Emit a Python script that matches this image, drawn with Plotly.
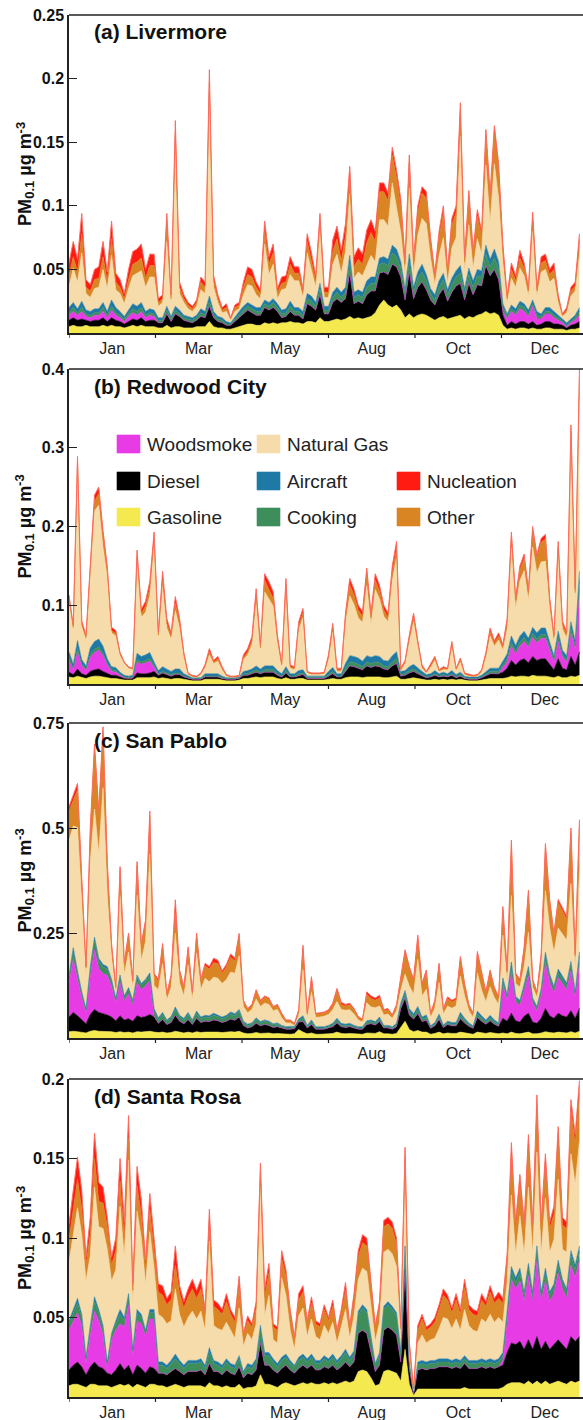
import plotly.graph_objects as go

# ---------------------------------------------------------------------------
# Daily-mean PM0.1 source contributions, sampled every third day of the year.
# All concentrations below are in ng m-3 (converted to ug m-3 when plotted).
# ---------------------------------------------------------------------------
DAYS = list(range(0, 361, 3))

MONTH_LABELS = ["Jan", "Mar", "May", "Aug", "Oct", "Dec"]
MONTH_LABEL_DAYS = [30.5, 91.5, 152.5, 213.5, 274.5, 335.5]
MONTH_TICK_DAYS = [0, 61, 122, 183, 244, 305]

SOURCES = ["Gasoline", "Diesel", "Woodsmoke", "Cooking", "Aircraft",
           "Natural Gas", "Other", "Nucleation"]

# ---- (a) Livermore ---------------------------------------------------------
LIV_GASOLINE = [
    5, 6, 5, 5, 6, 5, 5, 5, 6, 5, 6, 5, 5, 4, 5, 6, 5, 6, 5, 5, 5,
    4, 4, 6, 4, 5, 5, 4, 4, 4, 5, 5, 5, 9, 5, 4, 4, 3, 3, 4, 5, 6, 7, 7, 6, 6, 8, 7, 8, 7,
    8, 8, 9, 8, 8, 7, 9, 9, 8, 12, 9, 9, 10, 11, 10, 11, 13, 11, 12, 11, 12, 13, 16, 22, 26, 22,
    20, 22, 18, 12, 15, 12, 14, 15, 14, 12, 10, 12, 13, 11, 12, 13, 14, 11, 13, 12, 14, 15, 17, 15, 16, 14,
    6, 3, 4, 3, 4, 4, 3, 4, 3, 3, 4, 4, 3, 3, 3, 2, 3, 3, 4]
LIV_DIESEL = [
    5, 6, 5, 6, 4, 4, 5, 5, 6, 4, 6, 5, 4, 3, 4, 5, 5, 6, 4, 5, 5,
    4, 4, 9, 5, 10, 8, 6, 5, 4, 5, 8, 7, 12, 7, 5, 4, 3, 3, 5, 7, 9, 11, 9, 8, 8, 12, 11, 12, 10,
    4, 5, 8, 6, 6, 4, 14, 12, 10, 18, 6, 6, 14, 16, 14, 16, 34, 12, 13, 12, 18, 20, 17, 25, 22, 24,
    34, 30, 26, 14, 33, 15, 22, 25, 20, 14, 12, 18, 22, 14, 20, 24, 25, 15, 26, 18, 24, 22, 36, 30, 34, 28,
    8, 3, 5, 4, 5, 5, 4, 5, 3, 4, 5, 5, 4, 4, 3, 2, 3, 4, 5]
LIV_WOODSMOKE = [
    4, 5, 4, 6, 3, 3, 4, 4, 5, 3, 6, 4, 3, 2, 4, 5, 4, 5, 3, 4, 3,
    0, 0, 0, 0, 0, 0, 0, 0, 0, 0, 0, 0, 0, 0, 0, 0, 0, 0, 0, 0, 0, 0, 0, 0, 0, 0, 0, 0, 0,
    0, 0, 0, 0, 0, 0, 0, 0, 0, 0, 0, 0, 0, 0, 0, 0, 0, 0, 0, 0, 0, 0, 0, 0, 0, 0,
    0, 0, 0, 0, 0, 0, 0, 0, 0, 0, 0, 0, 0, 0, 0, 0, 0, 0, 0, 0, 0, 0, 0, 0, 0, 0,
    3, 5, 8, 7, 10, 8, 6, 12, 5, 4, 6, 6, 5, 3, 2, 1, 2, 3, 5]
LIV_COOKING = [
    2, 3, 2, 3, 2, 2, 2, 2, 3, 2, 3, 2, 2, 2, 2, 3, 3, 3, 2, 2, 2,
    2, 2, 3, 2, 3, 2, 2, 2, 2, 2, 3, 2, 4, 2, 2, 2, 1, 1, 2, 2, 3, 3, 3, 3, 3, 3, 3, 4, 3,
    3, 3, 4, 3, 3, 3, 4, 4, 3, 5, 3, 3, 4, 5, 4, 5, 8, 5, 5, 5, 6, 6, 6, 7, 7, 7,
    9, 8, 7, 5, 8, 5, 7, 8, 7, 5, 4, 6, 7, 5, 6, 7, 8, 5, 7, 6, 7, 7, 9, 7, 9, 8,
    3, 2, 2, 2, 3, 3, 2, 2, 3, 2, 2, 2, 2, 2, 1, 1, 1, 2, 3]
LIV_AIRCRAFT = [
    4, 4, 3, 5, 3, 3, 3, 3, 4, 3, 5, 4, 3, 2, 3, 4, 4, 4, 3, 3, 3,
    2, 2, 3, 2, 3, 3, 2, 2, 2, 2, 3, 3, 4, 3, 2, 2, 2, 1, 2, 3, 3, 3, 3, 3, 3, 3, 3, 3, 3,
    3, 3, 4, 3, 3, 3, 4, 4, 3, 4, 3, 3, 4, 4, 4, 4, 6, 4, 4, 4, 5, 5, 5, 5, 5, 5,
    6, 6, 5, 4, 6, 4, 5, 6, 5, 4, 4, 5, 5, 4, 5, 5, 6, 4, 5, 5, 5, 5, 7, 6, 7, 6,
    3, 2, 3, 3, 3, 3, 3, 3, 3, 2, 3, 3, 3, 2, 2, 2, 2, 2, 3]
LIV_NATURAL_GAS = [
    17, 27, 21, 38, 13, 11, 16, 17, 26, 18, 35, 14, 14, 10, 17, 22, 26, 25, 19, 25, 26,
    9, 12, 51, 11, 128, 13, 10, 6, 5, 7, 15, 14, 160, 19, 11, 4, 8, 2, 4, 2, 9, 14, 15, 10, 7, 44, 22, 27, 4,
    16, 16, 21, 21, 21, 11, 32, 20, 12, 42, 7, 7, 22, 26, 15, 28, 48, 11, 14, 13, 12, 17, 12, 30, 29, 26,
    49, 34, 23, 11, 52, 10, 29, 36, 40, 24, 8, 20, 28, 5, 24, 26, 102, 13, 34, 10, 24, 13, 63, 29, 67, 50,
    33, 9, 21, 17, 26, 22, 11, 54, 12, 33, 30, 20, 26, 10, 2, 8, 18, 19, 42]
LIV_OTHER = [
    8, 9, 8, 15, 5, 5, 7, 7, 10, 6, 13, 6, 5, 4, 7, 9, 9, 10, 7, 9, 9,
    3, 3, 14, 3, 8, 5, 3, 3, 2, 3, 6, 5, 8, 5, 3, 2, 3, 1, 3, 3, 6, 8, 7, 6, 4, 10, 8, 9, 5,
    5, 5, 8, 6, 6, 4, 9, 8, 5, 8, 4, 4, 10, 12, 10, 12, 14, 9, 10, 9, 18, 18, 16, 22, 22, 20,
    22, 22, 20, 8, 20, 8, 18, 20, 20, 12, 6, 14, 20, 8, 18, 20, 20, 8, 22, 10, 18, 14, 22, 18, 24, 22,
    8, 3, 7, 5, 8, 6, 4, 10, 4, 7, 7, 6, 7, 3, 1, 2, 4, 4, 10]
LIV_NUCLEATION = [
    10, 12, 10, 16, 6, 5, 8, 9, 12, 7, 14, 7, 6, 4, 8, 10, 10, 11, 7, 9, 9,
    3, 3, 8, 3, 10, 4, 3, 2, 2, 2, 4, 4, 10, 4, 3, 2, 3, 1, 2, 2, 4, 6, 6, 4, 3, 8, 6, 7, 3,
    5, 5, 6, 5, 5, 3, 6, 6, 4, 5, 4, 4, 9, 10, 8, 10, 8, 8, 9, 8, 10, 10, 8, 7, 7, 6,
    6, 6, 6, 4, 6, 4, 5, 5, 5, 4, 3, 5, 5, 3, 5, 5, 6, 4, 5, 4, 5, 4, 6, 5, 6, 5,
    6, 2, 5, 4, 6, 4, 3, 5, 3, 5, 5, 4, 5, 3, 1, 2, 3, 3, 6]

# ---- (b) Redwood City ------------------------------------------------------
RWC_GASOLINE = [
    9, 8, 10, 8, 7, 9, 10, 10, 9, 8, 7, 7, 6, 5, 5, 5, 8, 8, 8, 8, 9,
    7, 8, 7, 6, 7, 7, 6, 5, 4, 4, 4, 6, 6, 6, 6, 5, 4, 4, 4, 5, 7, 7, 8, 9, 8, 9, 9, 9, 7,
    6, 8, 6, 6, 7, 7, 5, 5, 5, 5, 5, 6, 7, 6, 6, 8, 9, 9, 9, 8, 9, 9, 9, 9, 8, 8,
    9, 10, 6, 6, 7, 8, 7, 6, 5, 5, 6, 5, 6, 5, 6, 5, 6, 5, 4, 4, 4, 5, 6, 7, 7, 7,
    7, 8, 10, 9, 10, 10, 9, 11, 10, 10, 10, 9, 8, 10, 8, 8, 10, 9, 11]
RWC_DIESEL = [
    6, 4, 9, 5, 4, 7, 8, 9, 7, 6, 4, 4, 3, 2, 2, 2, 6, 5, 5, 6, 7,
    4, 6, 5, 4, 5, 5, 3, 2, 2, 2, 2, 3, 3, 3, 3, 2, 2, 2, 2, 2, 4, 4, 5, 6, 5, 6, 6, 6, 4,
    3, 6, 3, 3, 4, 5, 2, 2, 2, 2, 2, 4, 6, 3, 3, 8, 14, 13, 11, 10, 14, 12, 14, 13, 11, 10,
    14, 16, 4, 5, 7, 8, 6, 4, 3, 4, 5, 4, 4, 4, 5, 3, 4, 2, 2, 2, 2, 3, 5, 6, 6, 6,
    8, 12, 20, 15, 20, 22, 18, 24, 20, 22, 22, 16, 10, 22, 12, 10, 25, 15, 30]
RWC_WOODSMOKE = [
    15, 6, 22, 10, 6, 18, 22, 24, 20, 10, 5, 4, 2, 1, 0, 1, 14, 12, 14, 15, 5,
    0, 0, 0, 0, 0, 0, 0, 0, 0, 0, 0, 0, 0, 0, 0, 0, 0, 0, 0, 0, 0, 0, 0, 0, 0, 0, 0, 0, 0,
    0, 0, 0, 0, 0, 0, 0, 0, 0, 0, 0, 0, 0, 0, 0, 0, 0, 0, 0, 0, 0, 0, 0, 0, 0, 0,
    0, 0, 0, 0, 0, 0, 0, 0, 0, 0, 0, 0, 0, 0, 0, 0, 0, 0, 0, 0, 0, 0, 0, 0, 0, 0,
    6, 8, 18, 14, 18, 22, 20, 24, 22, 26, 26, 18, 10, 22, 14, 10, 30, 20, 80]
RWC_COOKING = [
    3, 2, 4, 2, 2, 3, 4, 4, 3, 2, 2, 2, 1, 1, 1, 1, 3, 3, 3, 3, 3,
    2, 2, 2, 2, 2, 2, 1, 1, 1, 1, 1, 1, 1, 1, 1, 1, 1, 1, 1, 1, 2, 2, 2, 3, 2, 3, 3, 3, 2,
    1, 3, 1, 1, 2, 2, 1, 1, 1, 1, 1, 2, 3, 1, 1, 4, 5, 5, 5, 4, 5, 5, 5, 5, 4, 4,
    5, 6, 2, 2, 3, 3, 2, 2, 1, 1, 2, 1, 2, 1, 2, 1, 2, 1, 1, 1, 1, 1, 2, 3, 3, 3,
    3, 4, 5, 4, 5, 5, 4, 5, 5, 5, 5, 4, 3, 5, 3, 3, 6, 4, 10]
RWC_AIRCRAFT = [
    8, 5, 10, 6, 4, 9, 10, 10, 9, 6, 4, 4, 3, 2, 2, 2, 8, 7, 7, 8, 4,
    4, 6, 5, 4, 5, 5, 3, 2, 1, 1, 1, 3, 3, 3, 3, 2, 1, 1, 1, 1, 3, 4, 4, 5, 4, 5, 5, 5, 4,
    3, 5, 3, 3, 4, 4, 2, 2, 2, 2, 2, 4, 5, 3, 3, 6, 8, 8, 8, 7, 8, 8, 8, 8, 7, 7,
    8, 9, 4, 4, 5, 6, 5, 4, 3, 3, 4, 3, 3, 3, 4, 3, 3, 2, 2, 2, 2, 2, 3, 4, 4, 4,
    5, 6, 8, 7, 8, 8, 7, 8, 8, 8, 8, 7, 5, 8, 6, 5, 8, 7, 12]
RWC_NATURAL_GAS = [
    63, 44, 220, 42, 33, 92, 166, 170, 125, 104, 43, 40, 21, 15, 10, 7, 117, 50, 54, 72, 152,
    41, 103, 52, 41, 74, 52, 21, 2, 1, 1, 4, 8, 24, 13, 16, 8, 2, 1, 1, 1, 15, 20, 31, 82, 23, 94, 85, 76, 35,
    9, 98, 7, 5, 52, 66, 4, 2, 2, 2, 3, 15, 45, 3, 3, 51, 76, 66, 51, 49, 89, 42, 84, 73, 56, 50,
    96, 119, 1, 9, 32, 54, 29, 4, 2, 8, 13, 3, 3, 5, 30, 5, 13, 2, 1, 1, 1, 4, 18, 41, 28, 36,
    14, 32, 112, 47, 70, 77, 48, 102, 76, 84, 85, 42, 18, 94, 27, 22, 222, 51, 227]
RWC_OTHER = [
    4, 3, 6, 3, 3, 6, 12, 15, 14, 8, 3, 3, 2, 1, 1, 1, 6, 5, 8, 10, 5,
    4, 8, 6, 4, 10, 6, 3, 1, 1, 0, 1, 2, 4, 2, 3, 2, 1, 0, 0, 0, 3, 4, 5, 8, 4, 15, 12, 10, 5,
    2, 6, 2, 2, 5, 6, 1, 1, 1, 1, 1, 3, 6, 2, 2, 8, 14, 12, 10, 8, 14, 8, 12, 10, 8, 6,
    10, 12, 1, 2, 4, 6, 3, 2, 1, 2, 3, 1, 2, 1, 4, 2, 3, 1, 1, 0, 1, 2, 3, 6, 4, 5,
    4, 8, 14, 10, 14, 16, 10, 20, 18, 25, 28, 10, 5, 14, 6, 5, 20, 10, 20]
RWC_NUCLEATION = [
    5, 3, 8, 4, 3, 6, 8, 8, 8, 6, 4, 4, 2, 1, 1, 1, 8, 5, 6, 8, 8,
    4, 10, 6, 4, 8, 6, 3, 1, 1, 1, 1, 2, 4, 2, 3, 2, 1, 1, 1, 1, 3, 4, 5, 8, 4, 8, 10, 8, 5,
    2, 8, 2, 2, 5, 6, 1, 1, 1, 1, 1, 3, 5, 2, 2, 5, 8, 7, 6, 6, 8, 6, 8, 7, 6, 5,
    8, 9, 2, 2, 4, 5, 3, 2, 1, 2, 2, 1, 2, 1, 3, 1, 2, 1, 1, 1, 1, 1, 3, 4, 3, 4,
    3, 5, 6, 4, 5, 5, 4, 6, 5, 5, 6, 4, 3, 6, 4, 3, 8, 5, 10]

# ---- (c) San Pablo ---------------------------------------------------------
SPB_GASOLINE = [
    15, 16, 15, 14, 12, 16, 18, 16, 16, 15, 15, 13, 15, 13, 14, 12, 15, 14, 15, 16, 14,
    13, 14, 12, 13, 16, 14, 12, 14, 12, 15, 13, 14, 14, 15, 14, 13, 14, 15, 14, 16, 12, 10, 11, 13, 11, 12, 12, 10, 11,
    10, 9, 9, 10, 20, 14, 10, 12, 9, 9, 9, 10, 11, 14, 11, 10, 11, 10, 9, 9, 12, 12, 11, 15, 10, 10,
    9, 11, 25, 40, 20, 15, 18, 14, 14, 9, 11, 14, 10, 12, 11, 11, 14, 12, 10, 9, 14, 12, 11, 13, 11, 10,
    12, 10, 14, 11, 10, 12, 14, 10, 10, 12, 15, 13, 12, 14, 13, 12, 15, 12, 16]
SPB_DIESEL = [
    35, 45, 38, 30, 22, 40, 50, 45, 42, 40, 35, 28, 38, 30, 32, 28, 38, 35, 36, 40, 36,
    22, 30, 20, 24, 38, 26, 22, 30, 20, 32, 24, 26, 25, 28, 27, 24, 26, 30, 28, 34, 18, 14, 16, 22, 18, 20, 18, 15, 16,
    14, 12, 12, 12, 18, 25, 14, 20, 12, 12, 12, 14, 16, 22, 16, 15, 16, 14, 12, 12, 20, 22, 20, 24, 14, 14,
    12, 16, 45, 55, 35, 30, 40, 25, 28, 14, 18, 30, 15, 20, 18, 18, 32, 24, 18, 14, 35, 28, 22, 28, 22, 18,
    35, 30, 45, 30, 28, 40, 45, 28, 25, 35, 55, 40, 35, 45, 40, 38, 50, 35, 55]
SPB_WOODSMOKE = [
    80, 127, 86, 51, 26, 93, 142, 104, 95, 94, 73, 42, 80, 45, 59, 38, 80, 66, 73, 81, 2,
    0, 0, 0, 0, 0, 0, 0, 0, 0, 0, 0, 0, 0, 0, 0, 0, 0, 0, 0, 0, 0, 0, 0, 0, 0, 0, 0, 0, 0,
    0, 0, 0, 0, 0, 0, 0, 0, 0, 0, 0, 0, 0, 0, 0, 0, 0, 0, 0, 0, 0, 0, 0, 0, 0, 0,
    0, 0, 0, 0, 0, 0, 0, 0, 0, 0, 0, 0, 0, 0, 0, 0, 0, 0, 0, 0, 0, 0, 0, 0, 0, 0,
    80, 50, 100, 45, 40, 60, 90, 45, 30, 55, 110, 80, 60, 85, 75, 65, 95, 50, 110]
SPB_COOKING = [
    14, 20, 15, 10, 6, 15, 22, 18, 16, 15, 12, 8, 12, 8, 10, 8, 12, 10, 11, 12, 12,
    9, 12, 8, 10, 14, 10, 9, 12, 8, 12, 9, 10, 10, 11, 10, 9, 10, 12, 11, 13, 7, 6, 6, 9, 7, 8, 7, 6, 6,
    3, 3, 3, 3, 4, 8, 3, 6, 3, 3, 3, 3, 4, 6, 4, 4, 4, 3, 3, 3, 5, 5, 4, 6, 3, 3,
    3, 4, 8, 10, 8, 7, 9, 6, 7, 3, 4, 7, 3, 4, 4, 4, 8, 6, 4, 3, 8, 7, 5, 7, 5, 4,
    10, 8, 14, 8, 7, 10, 13, 7, 6, 9, 15, 12, 10, 12, 11, 10, 14, 8, 15]
SPB_AIRCRAFT = [
    6, 7, 6, 5, 4, 6, 8, 7, 6, 6, 5, 4, 5, 4, 5, 4, 5, 5, 5, 6, 6,
    4, 5, 3, 4, 6, 4, 4, 5, 3, 5, 4, 4, 4, 5, 4, 4, 4, 5, 5, 5, 3, 3, 3, 4, 3, 3, 3, 3, 3,
    3, 3, 3, 3, 3, 6, 3, 5, 3, 3, 3, 3, 4, 5, 4, 4, 4, 3, 3, 3, 4, 4, 4, 5, 3, 3,
    3, 4, 6, 8, 7, 6, 8, 5, 6, 3, 4, 6, 3, 4, 4, 4, 7, 5, 4, 3, 7, 6, 5, 6, 5, 4,
    6, 5, 8, 5, 5, 6, 8, 5, 4, 6, 9, 7, 6, 8, 7, 6, 8, 5, 9]
SPB_NATURAL_GAS = [
    321, 290, 341, 202, 77, 250, 305, 250, 421, 170, 55, 14, 190, 51, 85, 30, 190, 55, 90, 283, 55,
    67, 116, 48, 69, 175, 77, 53, 113, 49, 138, 66, 88, 81, 86, 87, 80, 85, 95, 96, 128, 35, 27, 32, 45, 36, 40, 40, 31, 32,
    18, 9, 9, 2, 9, 110, 19, 67, 22, 23, 25, 26, 32, 40, 33, 33, 32, 27, 16, 11, 43, 31, 33, 26, 25, 27,
    20, 30, 30, 39, 54, 47, 112, 50, 61, 20, 34, 75, 26, 36, 34, 39, 87, 53, 29, 20, 91, 61, 43, 68, 53, 44,
    102, 33, 158, 31, 31, 43, 82, 26, 22, 47, 147, 110, 81, 98, 101, 102, 186, 55, 193]
SPB_OTHER = [
    70, 60, 90, 60, 20, 70, 140, 90, 130, 70, 25, 10, 60, 25, 40, 15, 70, 35, 45, 90, 25,
    20, 40, 12, 25, 50, 25, 18, 35, 15, 40, 20, 30, 30, 35, 35, 25, 30, 35, 30, 45, 12, 8, 10, 18, 12, 14, 12, 8, 10,
    8, 5, 5, 3, 10, 50, 8, 30, 8, 8, 8, 8, 12, 25, 12, 10, 12, 10, 6, 5, 20, 20, 18, 20, 10, 10,
    6, 12, 30, 50, 40, 30, 50, 25, 40, 8, 15, 40, 10, 18, 15, 15, 40, 25, 12, 8, 45, 35, 20, 35, 20, 15,
    60, 20, 120, 20, 15, 40, 90, 15, 10, 30, 100, 60, 40, 60, 55, 50, 120, 30, 110]
SPB_NUCLEATION = [
    10, 15, 15, 8, 3, 10, 15, 10, 15, 10, 5, 3, 8, 4, 5, 3, 10, 5, 6, 12, 4,
    5, 8, 3, 5, 30, 6, 4, 8, 3, 8, 4, 6, 6, 10, 8, 5, 6, 8, 6, 8, 3, 2, 2, 4, 3, 3, 3, 2, 2,
    3, 2, 2, 2, 3, 8, 3, 6, 2, 2, 2, 3, 4, 6, 5, 4, 4, 3, 2, 2, 6, 6, 5, 6, 3, 3,
    2, 3, 6, 8, 6, 5, 8, 5, 6, 2, 4, 6, 3, 4, 4, 4, 6, 5, 3, 2, 6, 5, 4, 5, 4, 3,
    8, 4, 12, 4, 4, 6, 10, 4, 3, 6, 12, 8, 6, 8, 8, 7, 12, 5, 12]

# ---- (d) Santa Rosa --------------------------------------------------------
SRO_GASOLINE = [
    7, 8, 8, 7, 6, 8, 8, 7, 7, 7, 6, 7, 8, 7, 8, 6, 8, 7, 6, 8, 8,
    7, 7, 6, 7, 8, 7, 6, 7, 7, 7, 7, 6, 9, 7, 7, 6, 7, 6, 6, 8, 5, 6, 6, 7, 14, 8, 8, 7, 6,
    8, 9, 8, 7, 8, 9, 8, 9, 8, 8, 9, 8, 9, 8, 9, 10, 9, 10, 16, 17, 16, 12, 7, 8, 16, 17,
    16, 15, 10, 30, 8, 1, 5, 5, 5, 5, 5, 5, 5, 5, 5, 5, 5, 6, 5, 5, 5, 5, 5, 5, 5, 5,
    6, 8, 9, 9, 9, 8, 10, 8, 10, 8, 10, 8, 9, 10, 9, 8, 10, 9, 10]
SRO_DIESEL = [
    10, 12, 14, 12, 8, 11, 14, 12, 11, 8, 8, 10, 13, 10, 12, 8, 12, 11, 9, 11, 10,
    8, 8, 8, 9, 10, 9, 8, 9, 9, 9, 10, 8, 12, 9, 9, 8, 10, 9, 8, 11, 7, 9, 8, 10, 20, 12, 12, 10, 9,
    10, 11, 9, 8, 10, 11, 10, 11, 9, 9, 10, 10, 11, 9, 10, 12, 10, 12, 24, 25, 24, 16, 9, 12, 26, 27,
    26, 24, 12, 50, 10, 1, 12, 13, 12, 13, 13, 14, 14, 14, 13, 14, 13, 15, 13, 13, 13, 14, 13, 14, 13, 14,
    14, 20, 25, 24, 26, 22, 26, 22, 28, 22, 25, 22, 24, 26, 24, 22, 28, 26, 28]
SRO_WOODSMOKE = [
    25, 28, 31, 26, 7, 20, 32, 29, 21, 3, 22, 25, 25, 27, 38, 12, 28, 28, 23, 30, 31,
    0, 0, 0, 0, 0, 0, 0, 0, 0, 0, 0, 0, 0, 0, 0, 0, 0, 0, 0, 0, 0, 0, 0, 0, 0, 0, 0, 0, 0,
    0, 0, 0, 0, 0, 0, 0, 0, 0, 0, 0, 0, 0, 0, 0, 0, 0, 0, 0, 0, 0, 0, 0, 0, 0, 0,
    0, 0, 0, 0, 0, 0, 0, 0, 0, 0, 0, 0, 0, 0, 0, 0, 0, 0, 0, 0, 0, 0, 0, 0, 0, 0,
    3, 20, 40, 35, 38, 30, 40, 30, 48, 30, 38, 30, 32, 42, 35, 32, 45, 40, 48]
SRO_COOKING = [
    4, 5, 6, 5, 3, 4, 6, 5, 4, 3, 3, 4, 6, 4, 5, 3, 5, 4, 3, 4, 4,
    5, 5, 4, 5, 6, 5, 4, 5, 5, 5, 5, 4, 7, 5, 4, 4, 5, 4, 4, 5, 3, 4, 4, 5, 8, 6, 6, 5, 4,
    5, 5, 4, 4, 5, 5, 4, 5, 4, 4, 5, 4, 5, 4, 5, 6, 4, 5, 12, 14, 13, 8, 4, 6, 13, 14,
    13, 12, 5, 12, 4, 1, 3, 3, 3, 3, 3, 3, 3, 3, 3, 3, 3, 3, 3, 3, 3, 3, 3, 3, 3, 3,
    3, 4, 5, 4, 5, 4, 5, 4, 6, 4, 5, 4, 4, 5, 4, 4, 6, 5, 6]
SRO_AIRCRAFT = [
    2, 2, 3, 2, 1, 2, 3, 2, 2, 1, 1, 2, 3, 2, 2, 1, 2, 2, 1, 2, 2,
    2, 2, 2, 2, 3, 2, 2, 2, 2, 2, 2, 2, 3, 2, 2, 2, 2, 2, 2, 2, 1, 2, 2, 2, 3, 2, 2, 2, 2,
    2, 2, 2, 1, 2, 2, 2, 2, 2, 2, 2, 2, 2, 2, 2, 2, 2, 2, 2, 2, 2, 2, 1, 2, 2, 2,
    2, 2, 2, 3, 1, 0, 2, 2, 2, 2, 2, 2, 2, 2, 2, 2, 2, 2, 2, 2, 2, 2, 2, 2, 2, 2,
    2, 2, 3, 3, 3, 2, 3, 2, 3, 2, 3, 2, 2, 3, 2, 2, 3, 3, 3]
SRO_NATURAL_GAS = [
    37, 47, 57, 50, 48, 44, 69, 52, 61, 71, 33, 32, 65, 38, 84, 29, 62, 48, 29, 49, 26,
    30, 28, 26, 25, 41, 29, 24, 27, 31, 26, 30, 22, 67, 22, 21, 22, 23, 21, 17, 30, 16, 19, 16, 22, 87, 23, 36, 12, 13,
    50, 37, 19, 10, 26, 29, 14, 22, 15, 13, 19, 16, 20, 11, 18, 25, 12, 22, 20, 23, 24, 17, 14, 19, 34, 33,
    33, 29, 8, 42, 4, 1, 12, 16, 12, 13, 14, 19, 26, 25, 20, 25, 19, 29, 22, 19, 18, 25, 24, 28, 24, 26,
    19, 18, 45, 15, 33, 24, 48, 24, 59, 24, 44, 25, 28, 51, 19, 23, 61, 51, 66]
SRO_OTHER = [
    14, 16, 18, 16, 10, 14, 18, 16, 16, 14, 10, 12, 16, 12, 14, 8, 16, 14, 10, 14, 12,
    14, 14, 12, 13, 15, 13, 12, 13, 14, 13, 14, 10, 12, 12, 12, 10, 13, 10, 10, 14, 6, 8, 8, 10, 10, 12, 14, 8, 8,
    12, 12, 10, 6, 10, 10, 8, 10, 8, 8, 10, 8, 10, 6, 8, 12, 6, 10, 14, 16, 16, 12, 8, 10, 16, 16,
    16, 14, 6, 14, 6, 1, 8, 10, 8, 8, 10, 12, 14, 12, 10, 12, 10, 14, 10, 10, 10, 12, 10, 14, 12, 12,
    12, 14, 25, 15, 20, 15, 25, 15, 28, 15, 22, 15, 16, 25, 15, 15, 28, 25, 30]
SRO_NUCLEATION = [
    10, 12, 14, 12, 5, 10, 16, 12, 10, 6, 5, 8, 14, 10, 14, 4, 12, 10, 5, 10, 8,
    5, 6, 4, 5, 12, 5, 4, 5, 6, 5, 6, 3, 8, 4, 4, 3, 5, 3, 3, 6, 2, 3, 2, 4, 5, 5, 6, 2, 2,
    5, 4, 3, 2, 4, 4, 2, 4, 2, 2, 3, 2, 4, 2, 3, 5, 2, 4, 4, 5, 5, 3, 2, 3, 4, 4,
    4, 4, 2, 6, 2, 0, 3, 3, 2, 2, 3, 3, 4, 3, 3, 4, 3, 5, 3, 3, 3, 4, 3, 4, 3, 4,
    3, 4, 8, 5, 6, 5, 8, 5, 8, 5, 6, 4, 5, 8, 5, 4, 6, 6, 8]

# Y-axis ticks of each panel (ug m-3)
LIV_YTICKS = [0.05, 0.1, 0.15, 0.2, 0.25]
RWC_YTICKS = [0.1, 0.2, 0.3, 0.4]
SPB_YTICKS = [0.25, 0.5, 0.75]
SRO_YTICKS = [0.05, 0.1, 0.15, 0.2]

# ---------------------------------------------------------------------------
# Styling
# ---------------------------------------------------------------------------
COLORS = {
    "Gasoline": "#F4E94E",
    "Diesel": "#000000",
    "Woodsmoke": "#E73BE6",
    "Cooking": "#3E8E5B",
    "Aircraft": "#1E7AA5",
    "Natural Gas": "#F7DCAB",
    "Other": "#DA8524",
    "Nucleation": "#FF1A12",
}
FONT = "Liberation Sans, Arial, Helvetica, sans-serif"
FIG_W, FIG_H = 583, 1420
PLOT_LEFT = 69
X_RANGE = [0, 362.5]

panels = [
    dict(title="(a) Livermore", top=15, bottom=333, ymax=0.25, yticks=LIV_YTICKS,
         series=[LIV_GASOLINE, LIV_DIESEL, LIV_WOODSMOKE, LIV_COOKING, LIV_AIRCRAFT,
                 LIV_NATURAL_GAS, LIV_OTHER, LIV_NUCLEATION]),
    dict(title="(b) Redwood City", top=369, bottom=684, ymax=0.4, yticks=RWC_YTICKS,
         series=[RWC_GASOLINE, RWC_DIESEL, RWC_WOODSMOKE, RWC_COOKING, RWC_AIRCRAFT,
                 RWC_NATURAL_GAS, RWC_OTHER, RWC_NUCLEATION]),
    dict(title="(c) San Pablo", top=723, bottom=1038, ymax=0.75, yticks=SPB_YTICKS,
         series=[SPB_GASOLINE, SPB_DIESEL, SPB_WOODSMOKE, SPB_COOKING, SPB_AIRCRAFT,
                 SPB_NATURAL_GAS, SPB_OTHER, SPB_NUCLEATION]),
    dict(title="(d) Santa Rosa", top=1079, bottom=1397, ymax=0.2, yticks=SRO_YTICKS,
         series=[SRO_GASOLINE, SRO_DIESEL, SRO_WOODSMOKE, SRO_COOKING, SRO_AIRCRAFT,
                 SRO_NATURAL_GAS, SRO_OTHER, SRO_NUCLEATION]),
]

# Rotated y-axis title "PM0.1 ug m-3", laid out piece by piece (reading upward):
# (text, font size, horizontal pixel centre, offset of the piece centre from the
# panel centre in pixels; negative = higher up)
YTITLE_PIECES = [
    ("PM", 18, 25, 38.9),
    ("0.1", 13, 29.5, 16.3),
    ("\u00b5g m", 18, 25, -19.3),
    ("-3", 13, 20, -46.6),
]


def px_x(px):
    """Horizontal pixel -> paper coordinate (paper spans the plot area)."""
    return (px - PLOT_LEFT) / (FIG_W - PLOT_LEFT)


def px_y(py):
    """Vertical pixel (from top) -> paper coordinate."""
    return 1 - py / FIG_H


fig = go.Figure()
layout = dict(
    width=FIG_W, height=FIG_H,
    margin=dict(l=PLOT_LEFT, r=0, t=0, b=0, autoexpand=False),
    paper_bgcolor="white", plot_bgcolor="white",
    font=dict(family=FONT, color="#111"),
    showlegend=False,
)
shapes, annotations = [], []

for k, p in enumerate(panels):
    n = "" if k == 0 else str(k + 1)
    xa, ya = "x" + n, "y" + n
    for name, vals in zip(SOURCES, p["series"]):
        assert len(vals) == len(DAYS), (p["title"], name, len(vals))
        col = COLORS[name]
        line = dict(width=0.6, color=col)
        if name == "Nucleation":
            line = dict(width=1.0, color="#FF6A5E")
        fig.add_trace(go.Scatter(
            x=DAYS, y=[v / 1000 for v in vals], name=name,
            stackgroup="s%d" % k, mode="lines", line=line, fillcolor=col,
            xaxis=xa, yaxis=ya, hoverinfo="skip", showlegend=False,
        ))

    layout["xaxis" + n] = dict(
        domain=[0, 1], anchor=ya, range=X_RANGE, fixedrange=True,
        showline=True, linecolor="#222", linewidth=1.5, mirror=False,
        showgrid=False, zeroline=False,
        tickmode="array", tickvals=MONTH_LABEL_DAYS, ticktext=MONTH_LABELS,
        ticks="", tickfont=dict(size=16, color="#222", family=FONT),
    )
    layout["yaxis" + n] = dict(
        domain=[px_y(p["bottom"]), px_y(p["top"])], anchor=xa,
        range=[0, p["ymax"]], fixedrange=True,
        showline=True, linecolor="#222", linewidth=1.5,
        showgrid=False, zeroline=False,
        tickmode="array", tickvals=p["yticks"],
        ticktext=["%g" % v for v in p["yticks"]],
        ticks="inside", ticklen=8, tickwidth=1.2, tickcolor="#222",
        tickfont=dict(size=16, color="#111", family=FONT, weight="bold"),
    )
    # top frame line of each panel
    shapes.append(dict(type="line", xref=xa + " domain", yref=ya + " domain",
                       x0=0, x1=1, y0=1, y1=1, line=dict(color="#222", width=1.5),
                       layer="above"))
    # short month-boundary ticks just below the x axis
    for d in MONTH_TICK_DAYS:
        shapes.append(dict(type="line", xref=xa, yref="paper",
                           x0=d, x1=d, y0=px_y(p["bottom"]), y1=px_y(p["bottom"] + 5),
                           line=dict(color="#222", width=1.2), layer="above"))
    # panel title
    annotations.append(dict(
        text=p["title"], xref="paper", yref="paper",
        x=px_x(92), y=px_y(p["top"] + 17), xanchor="left", yanchor="middle",
        showarrow=False, font=dict(size=21, color="#111", family=FONT, weight="bold")))
    # y-axis title with subscript / superscript pieces
    yc = (p["top"] + p["bottom"]) / 2
    for text, size, cx, dy in YTITLE_PIECES:
        annotations.append(dict(
            text=text, xref="paper", yref="paper",
            x=px_x(cx), y=px_y(yc + dy), xanchor="center", yanchor="middle",
            textangle=-90, showarrow=False,
            font=dict(size=size, color="#111", family=FONT, weight="bold")))

# legend drawn inside panel (b)
LEGEND_ROWS = [
    [("Woodsmoke", 117), ("Natural Gas", 257)],
    [("Diesel", 117), ("Aircraft", 257), ("Nucleation", 397)],
    [("Gasoline", 117), ("Cooking", 257), ("Other", 397)],
]
LEGEND_ROW_Y = [444, 481, 517]
for row, ry in zip(LEGEND_ROWS, LEGEND_ROW_Y):
    for name, sx in row:
        shapes.append(dict(type="rect", xref="paper", yref="paper",
                           x0=px_x(sx), x1=px_x(sx + 23), y0=px_y(ry + 9), y1=px_y(ry - 9),
                           fillcolor=COLORS[name], line=dict(width=0.6, color=COLORS[name]),
                           layer="above"))
        annotations.append(dict(
            text=name, xref="paper", yref="paper", x=px_x(sx + 28), y=px_y(ry),
            xanchor="left", yanchor="middle", showarrow=False,
            font=dict(size=19, color="#222", family=FONT)))

layout["shapes"] = shapes
layout["annotations"] = annotations
fig.update_layout(**layout)

fig.write_html("out.html", config={"displayModeBar": False})
